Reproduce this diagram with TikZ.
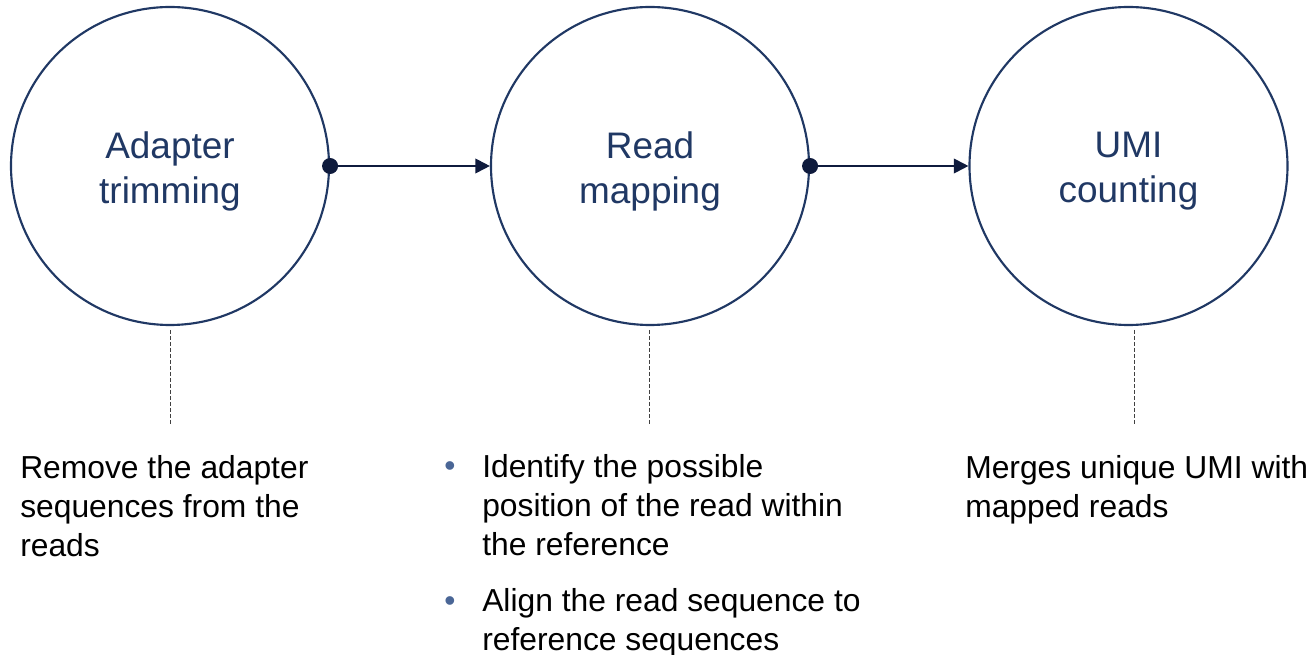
\documentclass[tikz,border=0pt]{standalone}
\usepackage{fontspec}
\setmainfont{Liberation Sans}
\usetikzlibrary{arrows.meta}
\definecolor{navy}{HTML}{203864}
\definecolor{arrowc}{HTML}{0F1B3D}
\definecolor{bulletc}{HTML}{4A6696}
\begin{document}
\begin{tikzpicture}[x=0.75pt,y=-0.75pt,
  stage/.style={circle,draw=navy,line width=1.6pt,minimum size=238.5pt,inner sep=0pt},
  stagetext/.style={text=navy,align=center,inner sep=0pt,font=\fontsize{27.7}{33.75}\selectfont},
  desc/.style={text=black,align=left,inner sep=0pt,anchor=north west,font=\fontsize{23.85}{29.3}\selectfont},
  bul/.style={text=bulletc,inner sep=0pt,anchor=base,font=\fontsize{23.85}{29.3}\selectfont},
  flow/.style={draw=arrowc,line width=1.5pt,-{Triangle[length=11pt,width=11pt]}},
  dotc/.style={fill=arrowc},
  guide/.style={draw=black!75,line width=0.6pt,dash pattern=on 3pt off 1.5pt}]
\useasboundingbox (0,0) rectangle (1313,655);

\node[stage] (c1) at (170,166) {};
\node[stage] (c2) at (650,166) {};
\node[stage] (c3) at (1128.5,166) {};

\node[stagetext] (t1) at (170,171) {Adapter\\trimming};
\node[stagetext] (t2) at (650,171) {Read\\mapping};
\node[stagetext] (t3) at (1128.5,171) {UMI\\counting};

\draw[flow] (c1.east) -- (c2.west);
\draw[flow] (c2.east) -- (c3.west);
\fill[dotc] (c1.east) circle (6pt);
\fill[dotc] (c2.east) circle (6pt);

\coordinate (g1a) at (170,330);
\coordinate (g1b) at (170,425);
\coordinate (g2a) at (649,330);
\coordinate (g2b) at (649,425);
\coordinate (g3a) at (1134,330);
\coordinate (g3b) at (1134,426);
\draw[guide] (g1a) -- (g1b);
\draw[guide] (g2a) -- (g2b);
\draw[guide] (g3a) -- (g3b);

\node[desc] (d1) at (20,455) {Remove the adapter\\sequences from the\\reads};
\node[bul] (b1) at (450,477) {\textbullet};
\node[desc] (d2) at (482,454) {Identify the possible\\position of the read within\\the reference};
\node[bul] (b2) at (450,611) {\textbullet};
\node[desc] (d3) at (482,588) {Align the read sequence to\\reference sequences};
\node[desc] (d4) at (965,455) {Merges unique UMI with\\mapped reads};
\end{tikzpicture}
\end{document}
